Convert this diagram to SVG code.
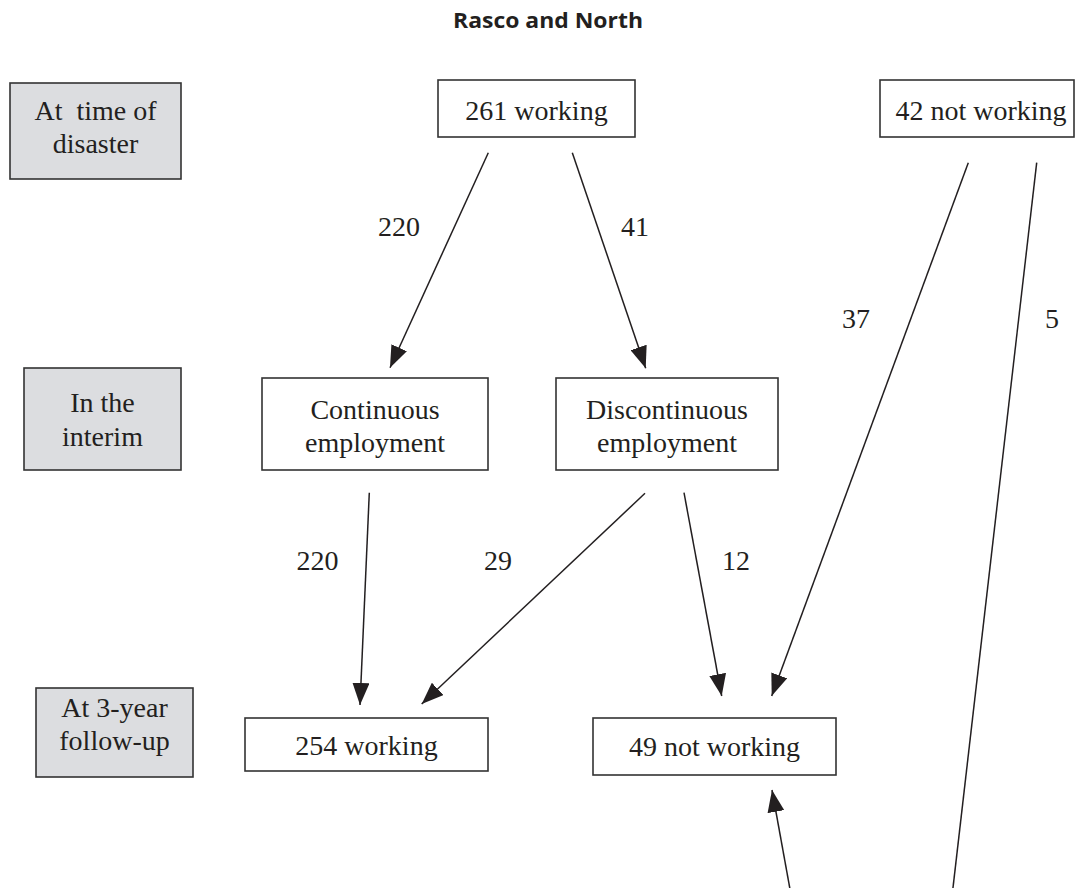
<svg xmlns="http://www.w3.org/2000/svg" width="1077" height="888" viewBox="0 0 1077 888">
  <style>
    .box { fill: #ffffff; stroke: #333333; stroke-width: 1.6; }
    .stage { fill: #dcdde0; stroke: #333333; stroke-width: 1.6; }
    .t { font-family: "Liberation Serif", "Times New Roman", serif; font-size: 28px; fill: #231f20; text-anchor: middle; }
    .lbl { font-family: "Liberation Serif", "Times New Roman", serif; font-size: 28px; fill: #231f20; text-anchor: middle; }
    .title { font-family: "Open Sans", "Liberation Sans", sans-serif; font-weight: bold; font-size: 22px; fill: #231f20; text-anchor: middle; }
    .edge { stroke: #231f20; stroke-width: 1.5; fill: none; marker-end: url(#arrow); }
    .plain { stroke: #231f20; stroke-width: 1.5; fill: none; }
  </style>
  <defs>
    <marker id="arrow" viewBox="0 0 22 17" refX="22" refY="8.5" markerWidth="22" markerHeight="17" markerUnits="userSpaceOnUse" orient="auto">
      <path d="M0,0 L22,8.5 L0,17 z" fill="#231f20"/>
    </marker>
  </defs>
  <rect width="1077" height="888" fill="#ffffff"/>

  <text class="title" x="548" y="28" textLength="190" lengthAdjust="spacingAndGlyphs">Rasco and North</text>

  <g id="stage-disaster">
    <rect class="stage" x="10" y="83" width="171" height="96"/>
    <text class="t" x="95.5" y="120" style="white-space:pre" xml:space="preserve">At  time of</text>
    <text class="t" x="95.5" y="153">disaster</text>
  </g>
  <g id="stage-interim">
    <rect class="stage" x="24" y="368" width="157" height="102"/>
    <text class="t" x="102.5" y="412">In the</text>
    <text class="t" x="102.5" y="446">interim</text>
  </g>
  <g id="stage-followup">
    <rect class="stage" x="36" y="688" width="157" height="89"/>
    <text class="t" x="114.5" y="717">At 3-year</text>
    <text class="t" x="114.5" y="750">follow-up</text>
  </g>

  <g id="n261">
    <rect class="box" x="438" y="80" width="197" height="57"/>
    <text class="t" x="536.5" y="120">261 working</text>
  </g>
  <g id="n42">
    <rect class="box" x="880" y="80" width="194" height="57"/>
    <text class="t" x="981" y="120">42 not working</text>
  </g>
  <g id="ncont">
    <rect class="box" x="262" y="378" width="226" height="92"/>
    <text class="t" x="375" y="419">Continuous</text>
    <text class="t" x="375" y="452">employment</text>
  </g>
  <g id="ndisc">
    <rect class="box" x="556" y="378" width="222" height="92"/>
    <text class="t" x="667" y="419">Discontinuous</text>
    <text class="t" x="667" y="452">employment</text>
  </g>
  <g id="n254">
    <rect class="box" x="245" y="718" width="243" height="53"/>
    <text class="t" x="366.5" y="755">254 working</text>
  </g>
  <g id="n49">
    <rect class="box" x="593" y="718" width="243" height="57"/>
    <text class="t" x="714.5" y="756">49 not working</text>
  </g>

  <g id="connectors">
    <line class="edge" x1="488.3" y1="152.7" x2="390" y2="367.7"/>
    <line class="edge" x1="572.3" y1="152.7" x2="645.7" y2="368.3"/>
    <line class="edge" x1="968.3" y1="162.7" x2="771.7" y2="696"/>
    <line class="plain" x1="1036.7" y1="162.7" x2="952.5" y2="892"/>
    <line class="edge" x1="369.3" y1="492.7" x2="360" y2="705"/>
    <line class="edge" x1="645" y1="493.3" x2="421.7" y2="704"/>
    <line class="edge" x1="684" y1="492.7" x2="721.7" y2="696"/>
    <line class="edge" x1="790.5" y1="892" x2="772" y2="790"/>
  </g>

  <g id="labels">
    <text class="lbl" x="399" y="236">220</text>
    <text class="lbl" x="635" y="236">41</text>
    <text class="lbl" x="856" y="328">37</text>
    <text class="lbl" x="1052" y="328">5</text>
    <text class="lbl" x="317.5" y="570">220</text>
    <text class="lbl" x="498" y="570">29</text>
    <text class="lbl" x="736" y="570">12</text>
  </g>
</svg>
